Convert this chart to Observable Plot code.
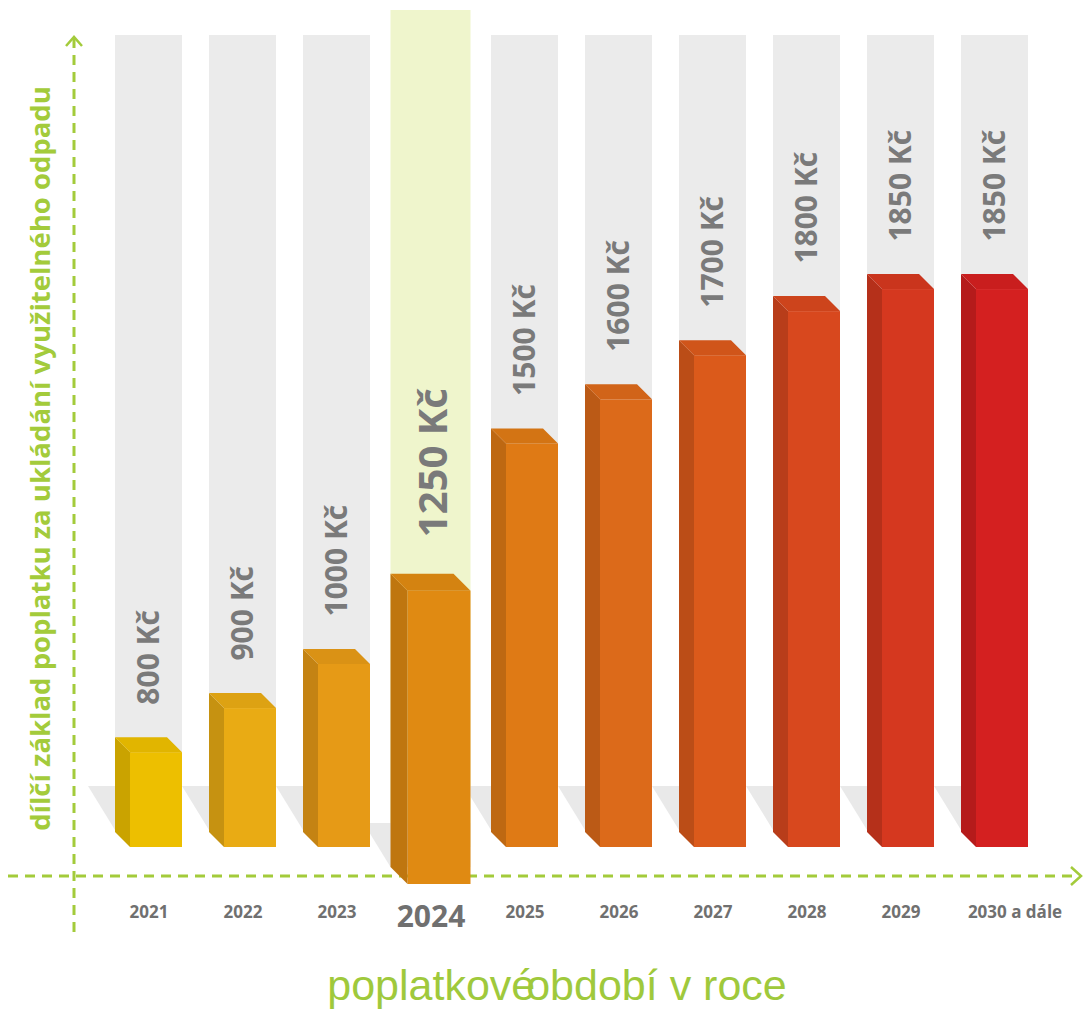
<!DOCTYPE html>
<html>
<head>
<meta charset="utf-8">
<script src="https://cdn.jsdelivr.net/npm/d3@7"></script>
<script src="https://cdn.jsdelivr.net/npm/@observablehq/plot@0.6"></script>
<style>
  html, body { margin: 0; padding: 0; background: #fff; }
  #chart svg { display: block; }
  #xtitle {
    font-family: "Liberation Sans", Arial, sans-serif;
    font-size: 43px;
    line-height: 50px;
    color: #9fc93c;
    width: 1054px;
    padding-left: 30px;
    margin-top: 10px;
    text-align: center;
    white-space: nowrap;
  }
</style>
</head>
<body>
<div id="chart"></div>
<div id="xtitle"><span style="word-spacing:-21px">poplatkové období</span> v roce</div>
<script>
// ---- data ----
const years = ["2021", "2022", "2023", "2024", "2025", "2026", "2027", "2028", "2029", "2030"];
const yearLabels = ["2021", "2022", "2023", "2024", "2025", "2026", "2027", "2028", "2029", "2030 a dále"];
const values = [800, 900, 1000, 1250, 1500, 1600, 1700, 1800, 1850, 1850];
const highlightYear = "2024";
const lastYear = "2030";
const yTitle = "dílčí základ poplatku za ukládání využitelného odpadu";

// ---- styles ----
const frontColors = ["#edbf00", "#e9ab14", "#e69a16", "#e08a12", "#df7a15", "#dc6a1a", "#db5a1b", "#d8481e", "#d5381f", "#d42020"];
const green = "#a3cb3b";
const yDomain = [585, 2426];
const depth = 15, hiDepth = 17, hiGrow = 6.5, hiDrop = 37;

const data = years.map((year, i) => ({
  year, label: yearLabels[i], value: values[i], text: `${values[i]} Kč`
}));
const normal = data.filter(d => d.year !== highlightYear);
const hi = data.filter(d => d.year === highlightYear);
const normalTicks = normal.filter(d => d.year !== lastYear);
const lastTick = normal.filter(d => d.year === lastYear);

const tickStyle = {fontSize: 17, fontWeight: 700, fill: "#707070"};

const plot = Plot.plot({
  width: 1084,
  height: 950,
  marginTop: 35,
  marginBottom: 103,
  marginLeft: 99,
  marginRight: 41,
  x: {domain: years, paddingInner: 0.29, paddingOuter: 0.145, axis: null},
  y: {domain: yDomain, axis: null},
  color: {domain: years, range: frontColors},
  style: {fontFamily: "'Open Sans', sans-serif", background: "#fff"},
  marks: [
    Plot.barY(normal, {x: "year", y1: yDomain[0], y2: yDomain[1], insetBottom: 17, fill: "#ebebeb"}),
    Plot.barY(hi, {x: "year", y1: yDomain[0], y2: yDomain[1], insetLeft: -hiGrow, insetRight: -hiGrow, insetTop: -25, fill: "#eff5cc"}),
    Plot.barY(normal, {x: "year", y1: yDomain[0], y2: "value", fill: "year", insetLeft: depth}),
    Plot.barY(hi, {x: "year", y1: yDomain[0], y2: "value", fill: "year", insetLeft: hiDepth - hiGrow, insetRight: -hiGrow, insetTop: hiDrop, insetBottom: -hiDrop}),
    Plot.text(normal, {x: "year", y: "value", text: "text", rotate: -90, textAnchor: "start", dy: -48, fontSize: 30, fontWeight: 700, fill: "#7a7a7a"}),
    Plot.text(hi, {x: "year", y: "value", text: "text", rotate: -90, textAnchor: "start", dx: 3, dy: hiDrop - 54, fontSize: 40, fontWeight: 700, fill: "#7a7a7a"}),
    Plot.text(normalTicks, {x: "year", text: "label", frameAnchor: "bottom", dy: 70, ...tickStyle}),
    Plot.text(lastTick, {x: "year", text: "label", frameAnchor: "bottom", dy: 70, dx: 20, ...tickStyle}),
    Plot.text(hi, {x: "year", text: "label", frameAnchor: "bottom", dy: 79, fontSize: 30, fontWeight: 700, fill: "#707070"}),
    Plot.text([yTitle], {frameAnchor: "left", textAnchor: "middle", rotate: -90, dx: -58, dy: 17, fontSize: 27.5, fontWeight: 700, fill: green})
  ]
});

// ---- 3D decoration using Plot's own scales ----
const xs = plot.scale("x"), ys = plot.scale("y");
const bw = xs.bandwidth, gap = xs.step - xs.bandwidth;
const base = ys.apply(yDomain[0]);
const colorOf = y => frontColors[years.indexOf(y)];

function geom(d) {
  const isHi = d.year === highlightYear;
  const x0 = xs.apply(d.year);
  return {
    L: x0 - (isHi ? hiGrow : 0),
    R: x0 + bw + (isHi ? hiGrow : 0),
    dep: isHi ? hiDepth : depth,
    yb: base + (isHi ? hiDrop : 0),
    yt: ys.apply(d.value) + (isHi ? hiDrop : 0)
  };
}
const pts = a => a.map(p => p.join(",")).join(" ");
const svg = d3.select(plot);
const barGroups = plot.querySelectorAll(':scope > g[aria-label="bar"]');
const frontG = barGroups[2];
const afterFronts = barGroups[3].nextSibling;

// floor shadows
const gShadow = svg.insert("g", () => frontG);
data.forEach(d => {
  const {L, R, yb} = geom(d);
  gShadow.append("polygon")
    .attr("points", pts([[L - gap, yb - 61], [R, yb - 61], [R, yb - 17], [L, yb - 17]]))
    .attr("fill", "#e9e9e9");
});

// dashed axes with open arrowheads
const gAxis = svg.insert("g", () => frontG)
  .attr("stroke", green).attr("fill", "none").attr("stroke-width", 3);
const axisY = base + 29;
const axisX = xs.range[0] - 25;
const W = 1084;
gAxis.append("line").attr("x1", 8).attr("x2", W - 4).attr("y1", axisY).attr("y2", axisY).attr("stroke-dasharray", "10,7");
gAxis.append("polyline").attr("points", pts([[W - 13, axisY - 9], [W - 3, axisY], [W - 13, axisY + 9]])).attr("stroke-width", 2.5);
gAxis.append("line").attr("x1", axisX).attr("x2", axisX).attr("y1", 38).attr("y2", base + 91).attr("stroke-dasharray", "10,7");
gAxis.append("polyline").attr("points", pts([[axisX - 8, 46], [axisX, 37], [axisX + 8, 46]])).attr("stroke-width", 2.5);

// side and top faces
const gFaces = svg.insert("g", () => afterFronts);
data.forEach(d => {
  const {L, R, dep, yb, yt} = geom(d);
  const c = colorOf(d.year);
  gFaces.append("polygon")
    .attr("points", pts([[L, yt - dep], [L + dep, yt], [L + dep, yb], [L, yb - dep]]))
    .attr("fill", d3.color(c).darker(0.45).formatHex());
  gFaces.append("polygon")
    .attr("points", pts([[L, yt - dep], [R - dep, yt - dep], [R, yt], [L + dep, yt]]))
    .attr("fill", d3.color(c).darker(0.15).formatHex());
});

document.getElementById("chart").appendChild(plot);
</script>
</body>
</html>
